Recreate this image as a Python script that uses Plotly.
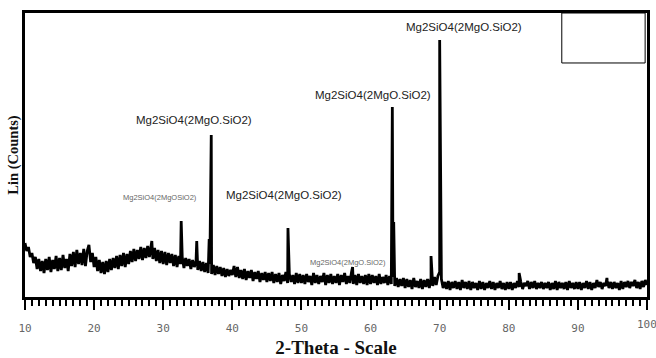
import numpy as np
import plotly.graph_objects as go

# Baseline diffractogram, 2-theta from 10 to 100 in 0.25 deg steps (arbitrary counts)
theta_start, theta_step = 10.0, 0.25
baseline_counts = [
    54, 46, 50, 40, 44, 34, 40, 28, 38, 26, 36, 24, 38, 27, 40, 25, 37, 28, 41, 26,
    39, 27, 42, 29, 38, 26, 43, 31, 45, 30, 47, 33, 44, 32, 48, 31, 46, 52, 35, 44,
    30, 40, 26, 37, 24, 35, 23, 36, 25, 38, 27, 39, 29, 41, 28, 42, 31, 44, 30, 43,
    33, 46, 35, 48, 36, 47, 38, 50, 37, 49, 39, 51, 40, 50, 38, 49, 36, 47, 34, 46,
    33, 45, 32, 44, 34, 43, 31, 42, 30, 41, 33, 40, 29, 39, 31, 38, 28, 37, 30, 36,
    27, 36, 26, 35, 25, 34, 24, 33, 23, 32, 22, 31, 23, 30, 21, 29, 20, 28, 21, 27,
    22, 31, 20, 30, 19, 27, 18, 28, 17, 26, 19, 27, 16, 25, 18, 26, 15, 24, 17, 25,
    15, 24, 16, 25, 14, 23, 15, 24, 13, 22, 16, 25, 14, 23, 15, 22, 13, 24, 14, 23,
    14, 22, 13, 23, 15, 21, 12, 24, 14, 22, 13, 21, 15, 24, 12, 22, 14, 23, 13, 21,
    14, 23, 12, 22, 15, 24, 13, 21, 14, 25, 13, 22, 12, 23, 14, 21, 13, 22, 12, 23,
    13, 22, 14, 21, 12, 23, 13, 20, 14, 22, 12, 21, 13, 20, 11, 19, 10, 18, 11, 19,
    9, 18, 10, 17, 8, 19, 10, 16, 9, 18, 8, 17, 10, 18, 9, 19, 11, 20, 12, 21,
    25, 18, 9, 15, 8, 16, 7, 15, 9, 16, 8, 15, 7, 17, 9, 15, 8, 16, 7, 15,
    9, 14, 7, 16, 8, 15, 7, 14, 9, 16, 8, 15, 7, 14, 9, 16, 8, 14, 7, 15,
    8, 15, 7, 14, 9, 16, 10, 15, 8, 14, 11, 16, 8, 15, 9, 16, 8, 14, 9, 15,
    8, 14, 9, 15, 7, 14, 8, 16, 7, 15, 9, 14, 8, 15, 7, 16, 9, 14, 8, 15,
    8, 15, 7, 14, 9, 16, 8, 15, 7, 14, 9, 17, 10, 15, 8, 14, 11, 16, 9, 15,
    8, 15, 9, 14, 7, 16, 8, 15, 10, 16, 9, 15, 11, 17, 9, 15, 8, 16, 10, 17,
    12,
]

# Peak apexes (2-theta, counts)
peak_theta = [28.35, 32.6, 34.85, 36.65, 36.95, 48.05, 57.4, 63.15, 63.35,
              68.75, 70.0, 70.15, 81.5, 94.2]
peak_counts = [56, 76, 56, 58, 162, 69, 30, 190, 75, 41, 257, 62, 24, 19]

# Phase labels
label_text = ["Mg2SiO4(2MgO.SiO2)", "Mg2SiO4(2MgO.SiO2)", "Mg2SiO4(2MgO.SiO2)",
              "Mg2SiO4(2MgO.SiO2)", "Mg2SiO4(2MgOSiO2)", "Mg2SiO4(2MgO.SiO2)"]
label_theta = [73.5, 60.4, 34.5, 47.5, 29.6, 56.7]
label_counts = [270, 202, 177, 102, 100, 35]
label_small = [False, False, False, False, True, True]

x_ticks = [10, 20, 30, 40, 50, 60, 70, 80, 90]
edge_tick = 100

base_theta = [theta_start + i * theta_step for i in range(len(baseline_counts))]
all_theta = np.array(base_theta + peak_theta)
all_counts = np.array(baseline_counts + peak_counts)
order = np.argsort(all_theta, kind="stable")

tick_font = dict(family="DejaVu Sans Mono", size=11, color="#666")

fig = go.Figure()
fig.add_trace(go.Scatter(
    x=all_theta[order], y=all_counts[order], mode="lines",
    line=dict(color="black", width=2.8), showlegend=False, hoverinfo="skip",
))

for t, x, y, small in zip(label_text, label_theta, label_counts, label_small):
    fig.add_annotation(
        x=x, y=y, text=t, showarrow=False,
        font=dict(family="Liberation Sans, Arial", size=7.5 if small else 11.5,
                  color="#666" if small else "#222"),
    )

# last tick label at the right edge (partly cut off in the original)
fig.add_annotation(x=edge_tick, y=0, xref="x", yref="paper", yanchor="top",
                   yshift=-19, text=str(edge_tick), showarrow=False, font=tick_font)

# empty legend box
fig.add_shape(type="rect", xref="paper", yref="paper",
              x0=0.863, x1=0.997, y0=0.824, y1=1.0,
              line=dict(color="black", width=1), fillcolor="white")

fig.update_layout(
    width=656, height=358,
    margin=dict(l=25, r=9, t=13, b=61),
    paper_bgcolor="white", plot_bgcolor="white",
    xaxis=dict(
        range=[10, 100], tickvals=x_ticks + [edge_tick],
        ticktext=[str(v) for v in x_ticks] + [""],
        automargin=False,
        ticks="outside", ticklen=10, tickwidth=2, tickcolor="black",
        ticklabelstandoff=9,
        minor=dict(dtick=1, ticks="outside", ticklen=6, tickwidth=1.5, tickcolor="black"),
        showline=True, linewidth=2.5, linecolor="black", mirror=True,
        showgrid=False, zeroline=False,
        tickfont=tick_font,
        title=dict(text="<b>2-Theta - Scale</b>", standoff=17,
                   font=dict(family="Liberation Serif, Times New Roman", size=19, color="#111")),
    ),
    yaxis=dict(
        range=[0, 284], showticklabels=False, ticks="", automargin=False,
        showline=True, linewidth=2.5, linecolor="black", mirror=True,
        showgrid=False, zeroline=False,
        title=dict(text="<b>Lin (Counts)</b>", standoff=1,
                   font=dict(family="Liberation Serif, Times New Roman", size=14.5, color="#111")),
    ),
)

fig.write_html("out.html")
